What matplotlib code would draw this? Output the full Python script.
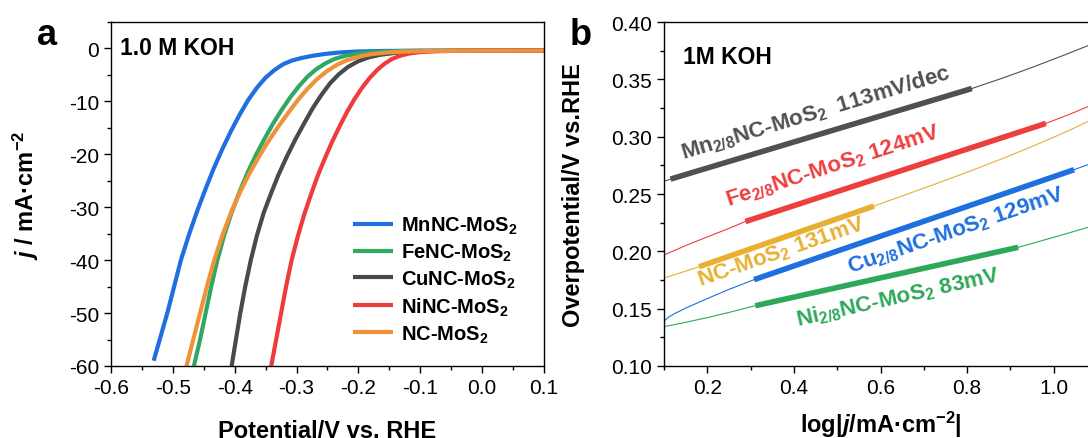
import numpy as np
import matplotlib
matplotlib.use("Agg")
import matplotlib.pyplot as plt
from matplotlib.ticker import MultipleLocator, FormatStrFormatter

plt.rcParams['font.family'] = 'Liberation Sans'
plt.rcParams['mathtext.fontset'] = 'custom'
plt.rcParams['mathtext.rm'] = 'Liberation Sans:bold'
plt.rcParams['mathtext.bf'] = 'Liberation Sans:bold'
plt.rcParams['mathtext.it'] = 'Liberation Sans:italic:bold'
plt.rcParams['axes.unicode_minus'] = False

# ---- panel a: LSV curves (potential V vs RHE, j mA/cm2)
v_mn = [-0.531, -0.520, -0.509, -0.498, -0.487, -0.474, -0.460, -0.447, -0.434, -0.420, -0.406, -0.392, -0.378,
        -0.364, -0.350, -0.336, -0.322, -0.308, -0.292, -0.275, -0.255, -0.230, -0.200, -0.160, -0.100, 0.100]
j_mn = [-59.0, -54.5, -50.0, -45.0, -40.0, -35.2, -30.5, -26.5, -22.7, -19.0, -15.6, -12.5, -9.7,
        -7.4, -5.5, -4.1, -3.0, -2.3, -1.8, -1.4, -1.05, -0.75, -0.57, -0.47, -0.42, -0.40]

v_fe = [-0.466, -0.456, -0.447, -0.438, -0.428, -0.417, -0.405, -0.392, -0.379, -0.366, -0.352, -0.338, -0.324,
        -0.310, -0.296, -0.282, -0.268, -0.253, -0.238, -0.220, -0.200, -0.175, -0.145, -0.100, 0.100]
j_fe = [-60.0, -55.0, -50.0, -45.0, -40.0, -35.3, -31.0, -27.0, -23.4, -20.2, -17.1, -14.2, -11.6,
        -9.2, -7.1, -5.3, -3.9, -2.8, -1.95, -1.35, -0.95, -0.68, -0.52, -0.44, -0.40]

v_cu = [-0.405, -0.398, -0.391, -0.383, -0.374, -0.364, -0.353, -0.341, -0.329, -0.316, -0.302, -0.288,
        -0.274, -0.260, -0.246, -0.232, -0.217, -0.201, -0.184, -0.165, -0.142, -0.115, -0.080, 0.100]
j_cu = [-60.0, -55.0, -50.0, -45.0, -40.0, -35.3, -31.0, -27.3, -23.8, -20.5, -17.2, -14.2,
        -11.3, -8.8, -6.6, -4.9, -3.5, -2.45, -1.7, -1.2, -0.85, -0.62, -0.48, -0.40]

v_ni = [-0.341, -0.333, -0.325, -0.317, -0.308, -0.298, -0.288, -0.277, -0.266, -0.254, -0.242, -0.230, -0.218,
        -0.206, -0.194, -0.182, -0.170, -0.158, -0.146, -0.133, -0.118, -0.100, -0.075, -0.040, 0.100]
j_ni = [-60.0, -55.0, -50.0, -45.0, -40.0, -35.5, -31.5, -27.7, -24.1, -20.7, -17.5, -14.6, -11.9,
        -9.5, -7.4, -5.6, -4.1, -2.9, -2.0, -1.4, -0.95, -0.68, -0.52, -0.44, -0.40]

v_nc = [-0.478, -0.467, -0.456, -0.445, -0.433, -0.420, -0.406, -0.392, -0.377, -0.362, -0.347, -0.331, -0.315,
        -0.299, -0.283, -0.267, -0.251, -0.235, -0.218, -0.200, -0.180, -0.155, -0.125, -0.080, 0.100]
j_nc = [-60.0, -55.0, -50.0, -45.0, -40.0, -35.3, -31.0, -27.3, -23.8, -20.7, -17.8, -15.0, -12.4,
        -9.9, -7.7, -5.8, -4.3, -3.1, -2.2, -1.55, -1.1, -0.78, -0.58, -0.46, -0.40]

lsv_names = ["MnNC-MoS$_2$", "FeNC-MoS$_2$", "CuNC-MoS$_2$", "NiNC-MoS$_2$", "NC-MoS$_2$"]
lsv_colors = ["#1f6fe0", "#2fa862", "#4a4a4a", "#ee3b3b", "#f0923a"]

# ---- panel b: Tafel (log|j| vs overpotential)
# thin = whole curve, thick = fitted region
tf_mn_x = [0.100, 0.115, 0.450, 0.811, 0.880, 0.945, 1.020, 1.100]
tf_mn_y = [0.261, 0.263, 0.301, 0.342, 0.3508, 0.3597, 0.3705, 0.3825]
fit_mn_x = [0.115, 0.811]
fit_mn_y = [0.263, 0.342]

tf_fe_x = [0.100, 0.150, 0.200, 0.250, 0.288, 0.982, 1.040, 1.100]
tf_fe_y = [0.1968, 0.2050, 0.2126, 0.2200, 0.2260, 0.3116, 0.3200, 0.3295]
fit_fe_x = [0.288, 0.982]
fit_fe_y = [0.2260, 0.3116]

tf_nc_x = [0.100, 0.140, 0.181, 0.585, 0.653, 0.720, 0.800, 0.884, 0.960, 1.030, 1.100]
tf_nc_y = [0.1767, 0.1815, 0.1866, 0.2395, 0.2487, 0.2578, 0.2690, 0.2812, 0.2930, 0.3045, 0.3170]
fit_nc_x = [0.181, 0.585]
fit_nc_y = [0.1866, 0.2395]

tf_cu_x = [0.100, 0.110, 0.125, 0.150, 0.200, 0.250, 0.308, 1.047, 1.100]
tf_cu_y = [0.139, 0.1425, 0.1458, 0.1505, 0.1588, 0.1668, 0.1753, 0.2712, 0.2785]
fit_cu_x = [0.308, 1.047]
fit_cu_y = [0.1753, 0.2712]

tf_ni_x = [0.100, 0.150, 0.200, 0.250, 0.311, 0.918, 1.000, 1.100]
tf_ni_y = [0.1343, 0.1381, 0.1422, 0.1467, 0.1526, 0.2035, 0.2122, 0.2232]
fit_ni_x = [0.311, 0.918]
fit_ni_y = [0.1526, 0.2035]

tafel_labels = [r"Mn$_{2/8}$NC-MoS$_2$  113mV/dec", r"Fe$_{2/8}$NC-MoS$_2$ 124mV",
                r"NC-MoS$_2$ 131mV", r"Cu$_{2/8}$NC-MoS$_2$ 129mV", r"Ni$_{2/8}$NC-MoS$_2$ 83mV"]
tafel_colors = ["#505050", "#ee3f3f", "#e8b032", "#1e6fe0", "#2ea85a"]
label_x = [0.145, 0.248, 0.183, 0.530, 0.410]
label_y = [0.2805, 0.2398, 0.170, 0.1817, 0.1351]
label_rot = [16.8, 18.0, 19.1, 19.0, 12.6]


fig = plt.figure(figsize=(10.88, 4.39), dpi=100)
ax1 = fig.add_axes([111/1088, 72/439, 433/1088, 344/439])
ax2 = fig.add_axes([664/1088, 72/439, 433/1088, 344/439])

for ax in [ax1, ax2]:
    for s in ax.spines.values():
        s.set_linewidth(1.0)
    ax.tick_params(which='both', direction='out', top=False, right=False, labelsize=15, width=1.0)
    ax.tick_params(which='major', length=5)
    ax.tick_params(which='minor', length=3)

# panel a
lsv = [(v_mn, j_mn), (v_fe, j_fe), (v_cu, j_cu), (v_ni, j_ni), (v_nc, j_nc)]
for (v, j), name, c in zip(lsv, lsv_names, lsv_colors):
    ax1.plot(v, j, color=c, lw=3, label=name, solid_capstyle='butt', solid_joinstyle='round')

ax1.set_xlim(-0.6, 0.1)
ax1.set_ylim(-60, 5)
ax1.xaxis.set_major_locator(MultipleLocator(0.1))
ax1.xaxis.set_minor_locator(MultipleLocator(0.05))
ax1.xaxis.set_major_formatter(FormatStrFormatter('%.1f'))
ax1.yaxis.set_major_locator(MultipleLocator(10))
ax1.yaxis.set_minor_locator(MultipleLocator(5))
ax1.set_xlabel("Potential/V vs. RHE", fontsize=17, fontweight='bold')
ax1.xaxis.set_label_coords(0.5, -0.155)
ax1.set_ylabel(r"$j$ / mA·cm$^{-2}$", fontsize=17, fontweight='bold')
ax1.yaxis.set_label_coords(-0.162, 0.5)
ax1.text(0.02, 0.925, "1.0 M KOH", transform=ax1.transAxes, fontsize=16.5, fontweight='bold', va='center')
ax1.legend(loc='upper left', bbox_to_anchor=(0.558, 0.44), frameon=False, prop={'size': 14.5, 'weight': 'bold'},
           handlelength=2.0, handletextpad=0.4, labelspacing=0.28, borderpad=0, borderaxespad=0)
fig.text(37/1088, 1 - 45/439, "a", fontsize=26, fontweight='bold')

# panel b
thin = [(tf_mn_x, tf_mn_y), (tf_fe_x, tf_fe_y), (tf_nc_x, tf_nc_y), (tf_cu_x, tf_cu_y), (tf_ni_x, tf_ni_y)]
thick = [(fit_mn_x, fit_mn_y), (fit_fe_x, fit_fe_y), (fit_nc_x, fit_nc_y), (fit_cu_x, fit_cu_y), (fit_ni_x, fit_ni_y)]
for (x, y), (fx, fy), c in zip(thin, thick, tafel_colors):
    ax2.plot(x, y, color=c, lw=0.8)
    ax2.plot(fx, fy, color=c, lw=4, solid_capstyle='butt')
for lab, c, x, y, r in zip(tafel_labels, tafel_colors, label_x, label_y, label_rot):
    ax2.text(x, y, lab, color=c, fontsize=16, fontweight='bold', rotation=r,
             rotation_mode='anchor', ha='left', va='baseline')

ax2.set_xlim(0.1, 1.1)
ax2.set_ylim(0.1, 0.4)
ax2.xaxis.set_major_locator(MultipleLocator(0.2))
ax2.xaxis.set_minor_locator(MultipleLocator(0.1))
ax2.xaxis.set_major_formatter(FormatStrFormatter('%.1f'))
ax2.yaxis.set_major_locator(MultipleLocator(0.05))
ax2.yaxis.set_minor_locator(MultipleLocator(0.025))
ax2.yaxis.set_major_formatter(FormatStrFormatter('%.2f'))
ax2.set_xlabel(r"log|$j$/mA·cm$^{-2}$|", fontsize=17, fontweight='bold')
ax2.xaxis.set_label_coords(0.5, -0.125)
ax2.set_ylabel("Overpotential/V vs.RHE", fontsize=17, fontweight='bold')
ax2.yaxis.set_label_coords(-0.182, 0.5)
ax2.text(0.045, 0.9, "1M KOH", transform=ax2.transAxes, fontsize=16.5, fontweight='bold', va='center')
fig.text(570/1088, 1 - 45/439, "b", fontsize=26, fontweight='bold')

fig.savefig("out.png", dpi=100)
